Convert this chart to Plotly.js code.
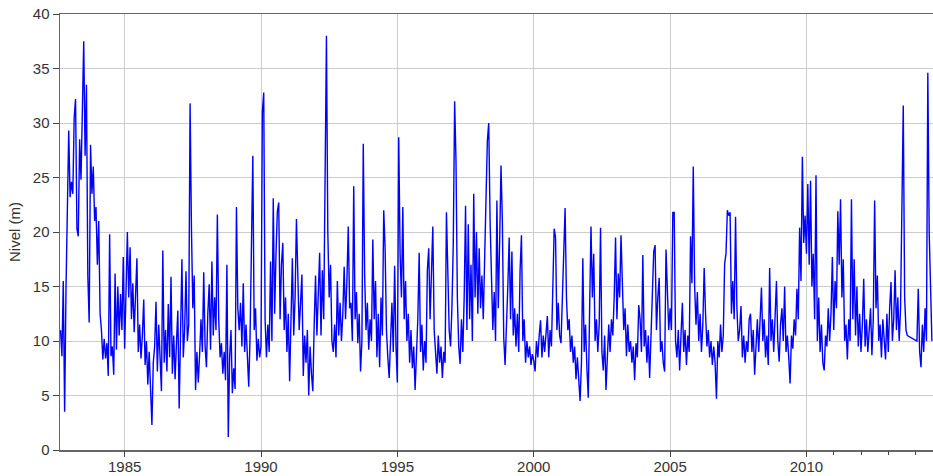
<!DOCTYPE html>
<html>
<head>
<meta charset="utf-8">
<script src="https://cdn.plot.ly/plotly-3.0.1.min.js"></script>
<style>
  html, body { margin: 0; padding: 0; background: #ffffff; }
  #chart { width: 933px; height: 476px; }
</style>
</head>
<body>
<div id="chart"></div>
<script>
const step = 0.05;

// Water level (m), one array per block; each block starts at the given year
const start_1982 = 1982.65;
const nivel_1982_1984 = [11.0, 8.6, 15.5, 3.5, 14.8, 24.5, 29.3, 23.2, 24.6, 23.5,
  30.5, 32.2, 20.3, 19.6, 28.5, 24.8, 33.0, 37.5, 27.0, 33.5,
  16.0, 11.7, 28.0, 23.5, 26.0, 21.0, 22.3, 17.0, 21.0, 12.5,
  11.0, 8.3, 10.2, 8.4, 9.8, 6.8, 19.8, 8.6, 9.5, 6.9,
  16.2, 9.2, 15.0, 10.5, 14.3, 11.0, 17.7];

const start_1985 = 1985.0;
const nivel_1985_1989 = [9.3, 14.5, 20.0, 14.0, 18.6, 12.0, 15.3, 10.8, 14.0, 17.6,
  9.0, 11.5, 8.4, 10.5, 13.8, 7.8, 10.0, 6.0, 9.0, 5.8,
  2.3, 8.0, 9.5, 13.6, 7.2, 11.5, 7.5, 5.4, 18.3, 8.0,
  11.0, 7.2, 13.4, 8.5, 15.9, 7.0, 10.5, 6.5, 9.8, 12.8,
  3.8, 9.5, 17.5, 8.5, 11.0, 16.4, 10.0, 11.5, 31.8, 20.3,
  13.0, 16.0, 5.5, 9.0, 6.2, 8.8, 12.0, 9.0, 16.3, 9.5,
  7.6, 12.5, 15.2, 9.2, 17.3, 10.5, 14.0, 11.0, 21.6, 12.0,
  8.5, 9.8, 7.0, 9.0, 6.4, 17.0, 1.2, 8.5, 11.0, 5.2,
  7.5, 5.6, 22.3, 13.0, 11.0, 13.5, 9.5, 15.3, 9.0, 11.5,
  8.0, 5.8, 10.5, 17.4, 27.0, 11.0, 13.0, 8.2, 10.2, 8.5];

const start_1990 = 1990.0;
const nivel_1990_1994 = [9.5, 31.0, 32.8, 12.0, 8.5, 11.5, 9.0, 17.3, 10.0, 23.1,
  12.5, 18.0, 21.9, 22.7, 12.0, 17.0, 19.0, 11.0, 14.0, 9.0,
  12.5, 6.3, 13.5, 17.6, 10.5, 14.0, 21.2, 16.7, 11.0, 13.5,
  16.1, 6.8, 10.5, 8.0, 11.0, 5.0, 9.5, 7.0, 5.4, 11.5,
  16.0, 10.5, 13.5, 18.1, 10.5, 16.5, 12.0, 24.2, 38.0, 20.0,
  14.0, 17.0, 10.0, 9.0, 11.5, 8.5, 15.5, 10.5, 13.5, 10.0,
  12.5, 16.8, 12.0, 15.5, 20.5, 13.0, 13.5, 10.0, 24.2, 12.0,
  14.5, 9.8, 12.5, 7.2, 10.0, 28.1, 16.0, 11.0, 13.5, 9.2,
  12.0, 10.0, 19.3, 12.0, 15.5, 8.5, 12.5, 7.6, 14.0, 10.5,
  22.0, 18.5, 11.0, 8.5, 6.6, 10.0, 13.5, 9.0, 16.9, 9.5];

const start_1995 = 1995.0;
const nivel_1995_1999 = [6.2, 28.7, 18.0, 14.0, 22.3, 12.0, 15.5, 10.0, 12.5, 8.0,
  11.0, 7.5, 9.5, 5.5, 9.0, 12.0, 18.1, 9.0, 11.5, 7.3,
  10.0, 8.0, 16.5, 18.5, 12.0, 17.0, 20.5, 11.0, 8.5, 7.0,
  10.5, 8.0, 9.5, 6.6, 9.0, 8.0, 21.8, 15.0, 11.0, 9.5,
  13.0, 18.9, 32.0, 26.5, 14.0, 9.5, 7.9, 12.0, 9.0, 14.0,
  22.4, 11.0, 20.7, 12.0, 17.0, 10.0, 23.5, 14.0, 20.0, 12.5,
  18.5, 13.0, 16.0, 12.0, 19.5, 23.0, 28.4, 30.0, 21.0, 15.5,
  11.0, 14.5, 10.0, 22.9, 13.0, 19.0, 26.1, 21.0, 10.3, 7.8,
  11.0, 15.0, 19.5, 12.0, 18.2, 10.5, 13.0, 9.5, 12.5, 9.0,
  16.5, 19.7, 10.0, 12.0, 8.0, 10.0, 8.5, 9.5, 7.8, 8.8];

const start_2000 = 2000.0;
const nivel_2000_2004 = [8.2, 7.2, 10.0, 8.5, 10.5, 11.9, 8.5, 10.5, 9.0, 11.0,
  12.3, 8.5, 11.0, 9.5, 14.0, 20.3, 19.5, 11.0, 13.5, 10.5,
  9.8, 14.0, 17.0, 22.2, 14.0, 11.0, 12.0, 9.0, 10.5, 8.0,
  9.5, 6.5, 8.5, 6.0, 4.5, 8.0, 17.6, 9.0, 11.5, 7.5,
  4.8, 13.0, 20.5, 14.0, 18.0, 10.0, 12.0, 9.0, 11.5, 20.4,
  9.0, 7.3, 10.5, 5.5, 9.5, 11.5, 9.0, 12.0, 10.5, 14.0,
  19.5, 12.0, 16.2, 14.0, 19.7, 15.0, 11.0, 13.0, 8.6, 11.5,
  9.0, 10.0, 8.0, 9.5, 6.4, 9.8, 8.5, 13.3, 12.0, 9.0,
  17.9, 9.5, 11.0, 8.0, 10.5, 6.6, 10.0, 13.0, 18.2, 18.8,
  11.0, 14.0, 15.8, 9.0, 10.0, 8.0, 7.2, 18.4, 14.5, 11.0];

const start_2005 = 2005.0;
const nivel_2005_2009 = [13.0, 11.0, 21.8, 21.8, 10.0, 8.5, 11.0, 7.3, 10.5, 13.5,
  9.0, 11.0, 7.8, 10.5, 9.0, 19.6, 15.3, 26.0, 15.0, 11.5,
  14.5, 10.0, 12.5, 9.0, 11.5, 16.7, 12.5, 9.5, 11.0, 8.5,
  10.0, 7.8, 9.5, 8.0, 4.7, 10.0, 8.5, 11.5, 9.0, 10.5,
  17.1, 18.0, 22.0, 21.5, 21.8, 12.5, 15.5, 12.0, 21.4, 13.0,
  10.0, 11.0, 13.2, 8.5, 10.5, 8.0, 10.0, 9.0, 12.0, 12.5,
  9.0, 11.0, 6.9, 10.0, 12.0, 9.0, 11.5, 14.9, 10.0, 12.0,
  8.5, 10.5, 7.8, 16.7, 10.0, 12.0, 9.0, 13.0, 15.5, 10.0,
  8.1, 11.5, 13.0, 10.0, 15.0, 9.0, 10.5, 8.5, 6.1, 10.5,
  9.3, 12.0, 10.5, 14.8, 12.0, 20.4, 15.5, 26.9, 19.0, 21.5];

const start_2010 = 2010.0;
const nivel_2010_2014 = [18.0, 24.4, 17.0, 24.7, 15.0, 18.0, 12.0, 25.2, 10.0, 14.0,
  9.0, 11.5, 8.0, 7.3, 10.5, 9.5, 13.0, 10.0, 12.5, 17.7,
  11.0, 15.5, 13.0, 21.9, 17.0, 23.0, 14.0, 17.5, 10.0, 11.5,
  8.3, 12.0, 10.0, 23.0, 12.0, 17.5, 10.5, 15.0, 9.5, 12.5,
  9.0, 11.5, 15.7, 9.5, 12.0, 9.0, 11.0, 13.0, 8.7, 12.0,
  22.9, 13.0, 16.0, 10.0, 11.5, 8.5, 12.0, 9.5, 8.3, 12.5,
  9.0, 13.0, 15.4, 10.0, 12.0, 16.5, 11.0, 14.0, 10.0, 13.0,
  21.7, 31.6, 14.0, 11.0, 10.5, null, null, null, null, null,
  null, 10.0, 14.8, 9.0, 7.6, 11.5, 9.0, 13.0, 10.0, 34.6,
  20.0, 14.0, 10.0];

// Axis ticks
const yearTicks = [1985, 1990, 1995, 2000, 2005, 2010];
const yearTickLabels = ['1985', '1990', '1995', '2000', '2005', '2010'];
const minorYearTicks = [2011, 2012, 2013, 2014];
const xRange = [1982.63, 2014.64];
const yRange = [0, 40];

const blocks = [
  [start_1982, nivel_1982_1984],
  [start_1985, nivel_1985_1989],
  [start_1990, nivel_1990_1994],
  [start_1995, nivel_1995_1999],
  [start_2000, nivel_2000_2004],
  [start_2005, nivel_2005_2009],
  [start_2010, nivel_2010_2014]
];
const xs = [], ys = [];
blocks.forEach(([s, vals]) => {
  vals.forEach((v, i) => { xs.push(+(s + i * step).toFixed(4)); ys.push(v); });
});

const font = "'Liberation Sans', Arial, sans-serif";

const traces = [
  {
    x: xs, y: ys, type: 'scatter', mode: 'lines',
    line: { color: '#0000ff', width: 1.4 },
    connectgaps: true, hoverinfo: 'skip', showlegend: false
  },
  { x: [], y: [], xaxis: 'x2', type: 'scatter', mode: 'lines', showlegend: false, hoverinfo: 'skip' },
  { x: [], y: [], xaxis: 'x3', type: 'scatter', mode: 'lines', showlegend: false, hoverinfo: 'skip' }
];

const layout = {
  width: 933, height: 476,
  margin: { l: 60, r: 0, t: 14, b: 26, pad: 0 },
  paper_bgcolor: '#ffffff', plot_bgcolor: '#ffffff',
  showlegend: false,
  font: { family: font, size: 15, color: '#333333' },
  xaxis: {
    range: xRange, tickmode: 'array', tickvals: yearTicks, ticktext: yearTickLabels,
    ticks: '', ticklabelstandoff: 2,
    showline: true, linecolor: '#666666', linewidth: 1.5, mirror: true,
    showgrid: true, gridcolor: '#cccccc', gridwidth: 1, zeroline: false,
    tickfont: { family: font, size: 15, color: '#333333' }
  },
  xaxis2: {
    range: xRange, overlaying: 'x', anchor: 'y', side: 'bottom',
    tickmode: 'array', tickvals: yearTicks,
    ticks: 'outside', ticklen: 6, tickwidth: 1, tickcolor: '#444444',
    showticklabels: false, showgrid: false, showline: false, zeroline: false
  },
  xaxis3: {
    range: xRange, overlaying: 'x', anchor: 'y', side: 'bottom',
    tickmode: 'array', tickvals: minorYearTicks,
    ticks: 'outside', ticklen: 4, tickwidth: 1, tickcolor: '#444444',
    showticklabels: false, showgrid: false, showline: false, zeroline: false
  },
  yaxis: {
    range: yRange, tick0: 0, dtick: 5,
    ticks: 'outside', ticklen: 6, tickwidth: 1, tickcolor: '#444444',
    showline: true, linecolor: '#666666', linewidth: 1.5,
    showgrid: true, gridcolor: '#cccccc', gridwidth: 1, zeroline: false,
    tickfont: { family: font, size: 15, color: '#333333' },
    title: { text: 'Nivel (m)', font: { family: font, size: 15, color: '#333333' }, standoff: 8 }
  }
};

Plotly.newPlot('chart', traces, layout, { staticPlot: true, displayModeBar: false });
</script>
</body>
</html>
